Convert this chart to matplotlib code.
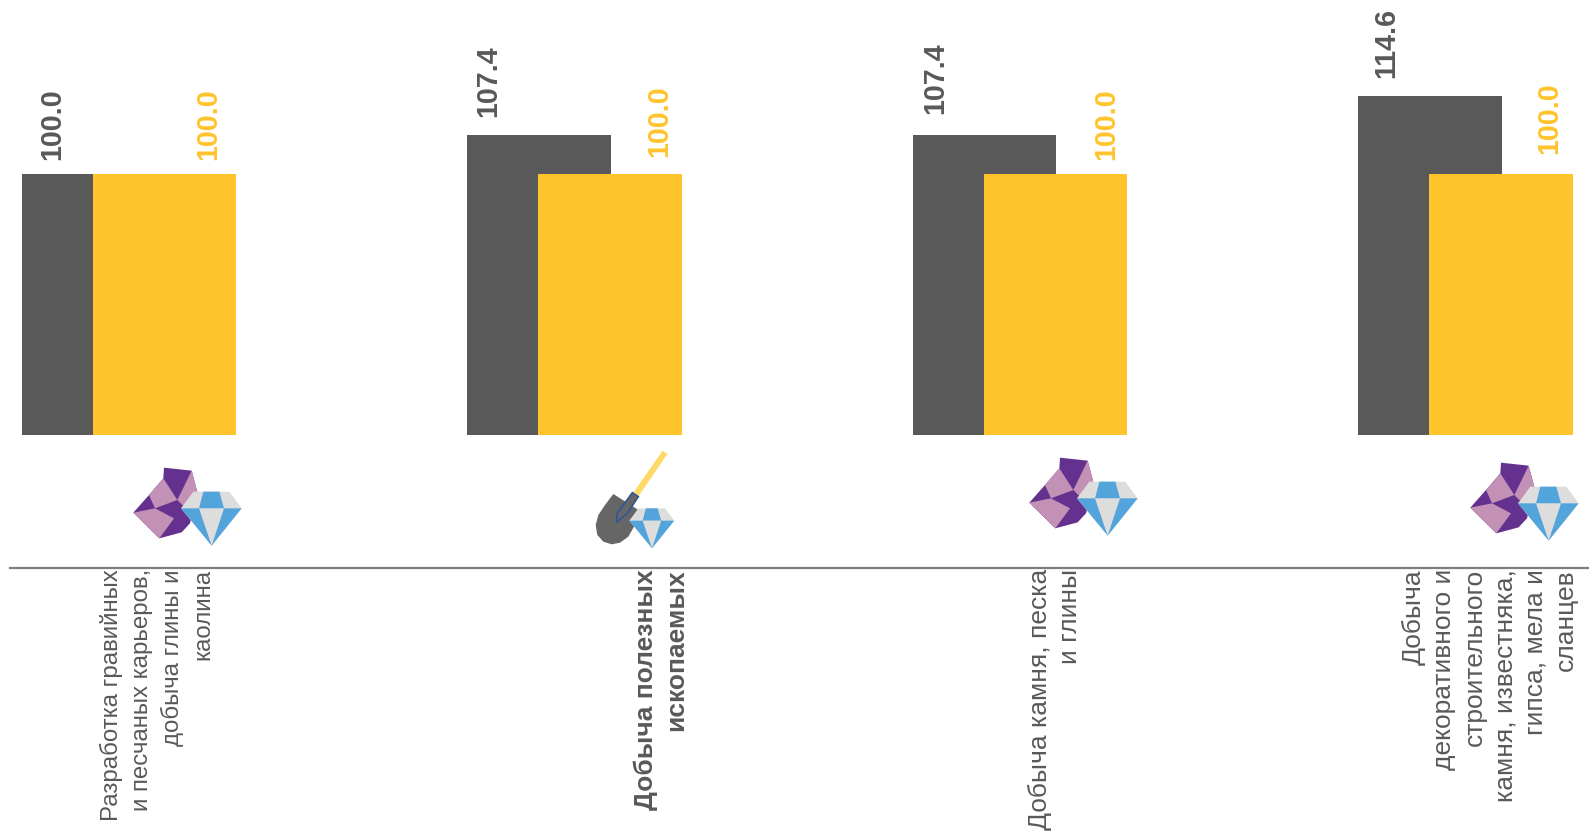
import matplotlib
matplotlib.use("Agg")
import matplotlib.pyplot as plt
from matplotlib.patches import Polygon
from matplotlib.lines import Line2D
from matplotlib.transforms import Affine2D

plt.rcParams['font.family'] = ['Liberation Sans', 'DejaVu Sans']

# данные
labels = ["Разработка гравийных\nи песчаных карьеров,\nдобыча глины и\nкаолина",
          "Добыча полезных\nископаемых",
          "Добыча камня, песка\nи глины",
          "Добыча\nдекоративного и\nстроительного\nкамня, известняка,\nгипса, мела и\nсланцев"]
dark_values = [100.0, 107.4, 107.4, 114.6]
yellow_values = [100.0, 100.0, 100.0, 100.0]

DARK = '#595959'
YELLOW = '#FFC42C'
W, H = 1589, 836

fig = plt.figure(figsize=(W / 100, H / 100), dpi=100)
ax = fig.add_axes([0, (H - 435) / H, 1, 435 / H])

# пиксели картинки -> координаты фигуры
px = Affine2D().scale(1, -1).translate(0, H)

step = 445.5
bar_w = 143.5 / step
shift = 71.5 / step
for i in range(4):
    ax.bar(i - shift / 2, dark_values[i], bar_w, color=DARK)
    ax.bar(i + shift / 2, yellow_values[i], bar_w, color=YELLOW)

ax.set_xlim(-129 / step, (W - 129) / step)
ax.set_ylim(51.2, 51.2 + 435 / 5.34)
ax.axis('off')

# подписи значений
dark_dx = [-41, -50, -49, -43]
dark_dy = [14, 18, 21, 18]
yellow_dx = [44, 49, 51, 48]
yellow_dy = [14, 17, 14, 20]
for i in range(4):
    ax.annotate(f"{dark_values[i]:.1f}", (i - shift / 2, dark_values[i]),
                xytext=(dark_dx[i], dark_dy[i]), textcoords='offset pixels',
                rotation=90, ha='center', va='bottom', fontsize=20.6,
                fontweight='bold', color=DARK)
    ax.annotate(f"{yellow_values[i]:.1f}", (i + shift / 2, yellow_values[i]),
                xytext=(yellow_dx[i], yellow_dy[i]), textcoords='offset pixels',
                rotation=90, ha='center', va='bottom', fontsize=20.6,
                fontweight='bold', color=YELLOW)

# линия оси
fig.add_artist(Line2D([10, W], [567.5, 567.5], color='#7F7F7F', lw=1.6, transform=px))

# подписи категорий
label_x = [157, 661, 1055, 1490]
label_w = ['normal', 'bold', 'normal', 'normal']
label_size = [17.3, 19, 19, 19]
label_gap = [1.47, 1.34, 1.34, 1.34]
for i in range(4):
    fig.text(label_x[i] / W, 1 - 569 / H, labels[i], rotation=90, ha='center',
             va='top', ma='right', fontsize=label_size[i], color='#595959',
             fontweight=label_w[i], linespacing=label_gap[i])


# значки
def poly(points, color, ox, oy, k=1.0):
    pts = [(ox + x * k / 3, oy + y * k / 3) for x, y in points]
    fig.add_artist(Polygon(pts, closed=True, color=color, lw=0, transform=px))


def gem(ox, oy, k=1.0):
    # координаты внутри значка, начало в левом верхнем углу кристалла
    poly([(37, 0), (145, 0), (182, 50), (92, 162), (0, 50)], '#DEDDDD', ox, oy, k)
    poly([(67, 0), (115, 0), (129, 50), (54, 50)], '#52A4DB', ox, oy, k)
    poly([(0, 50), (182, 50), (92, 162)], '#52A4DB', ox, oy, k)
    poly([(54, 50), (129, 50), (92, 162)], '#DEDDDD', ox, oy, k)


def rock_and_gem(dx, dy):
    ox, oy = 100 + dx, 430 + dy
    poly([(192, 113), (275, 122), (293, 190), (270, 280), (245, 307), (178, 325),
          (100, 248), (147, 195), (190, 145)], '#65318E', ox, oy)
    poly([(190, 145), (232, 210), (165, 235), (147, 195)], '#C391B5', ox, oy)
    poly([(275, 122), (293, 190), (250, 228), (232, 210)], '#C391B5', ox, oy)
    poly([(100, 248), (165, 235), (222, 265), (178, 325)], '#C391B5', ox, oy)
    gem(ox + 243 / 3, oy + 185 / 3)


def shovel(ox, oy):
    poly([(278, 62), (292, 72), (206, 198), (190, 188)], '#FFD966', ox, oy)
    poly([(130, 192), (105, 225), (85, 255), (77, 285), (82, 315), (100, 335),
          (125, 343), (150, 338), (175, 320), (195, 285), (205, 240), (187, 228)],
         '#666666', ox, oy)
    neck = [(187, 188), (205, 200), (172, 250), (140, 277), (142, 250)]
    neck = [(ox + x / 3, oy + y / 3) for x, y in neck]
    fig.add_artist(Polygon(neck, closed=True, facecolor='#666666', edgecolor='#2F5597',
                           lw=1.2, transform=px))


rock_and_gem(0, 0)
rock_and_gem(896, -10)
rock_and_gem(1337, -5)
shovel(570, 430)
gem(570 + 178 / 3, 430 + 235 / 3, 0.74)

plt.savefig('out.png', dpi=100)
